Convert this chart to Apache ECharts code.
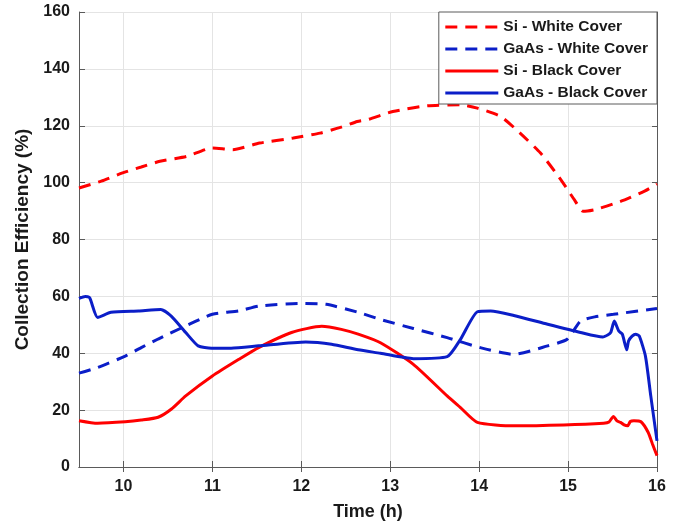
<!DOCTYPE html>
<html>
<head>
<meta charset="utf-8">
<script src="https://cdn.jsdelivr.net/npm/echarts@6/dist/echarts.min.js"></script>
<style>
  html, body { margin: 0; padding: 0; background: #fff; }
  #chart { width: 690px; height: 526px; }
</style>
</head>
<body>
<div id="chart"></div>
<script>
// Time of day (h) and collection efficiency (%) for each receiver / cover combination
const siWhiteT = [9.5, 9.75, 9.99, 10.2, 10.41, 10.71, 11.0, 11.23, 11.53, 11.91, 12.21, 12.45, 12.63, 12.74, 13.03, 13.41, 13.79, 13.98, 14.24, 14.46, 14.69, 14.92, 15.07, 15.17, 15.3, 15.59, 15.86, 16.0];
const siWhiteV = [98.1, 100.5, 103.4, 105.5, 107.5, 109.2, 112.2, 111.6, 113.9, 115.7, 117.4, 119.5, 121.5, 122.1, 125.0, 127.0, 127.4, 126.2, 123.3, 117.4, 110.4, 101.0, 94.0, 89.9, 90.5, 93.4, 97.0, 99.5];

const gaasWhiteT = [9.5, 9.71, 10.02, 10.2, 10.39, 10.7, 11.0, 11.3, 11.52, 11.98, 12.28, 12.64, 12.89, 13.26, 13.64, 14.01, 14.39, 14.77, 14.99, 15.14, 15.3, 15.51, 16.0];
const gaasWhiteV = [33.0, 35.0, 39.0, 42.0, 45.0, 49.6, 53.7, 54.9, 56.6, 57.5, 57.2, 54.4, 51.9, 48.7, 45.5, 42.0, 39.6, 42.6, 44.9, 51.3, 52.8, 53.7, 55.7];

const siBlackT = [9.5, 9.71, 10.02, 10.2, 10.39, 10.54, 10.7, 11.0, 11.3, 11.52, 11.89, 12.23, 12.45, 12.64, 12.89, 13.26, 13.64, 13.79, 13.98, 14.39, 14.95, 15.4, 15.46, 15.51, 15.55, 15.59, 15.63, 15.67, 15.7, 15.74, 15.82, 15.9, 15.95, 16.0];
const siBlackV = [16.3, 15.4, 15.9, 16.5, 17.5, 20.4, 25.0, 32.0, 37.9, 42.0, 47.3, 49.5, 48.4, 46.7, 43.7, 36.1, 25.0, 20.9, 15.7, 14.5, 14.8, 15.4, 15.8, 17.8, 16.2, 15.7, 14.8, 14.5, 16.0, 16.3, 15.9, 12.2, 8.0, 4.0];

const gaasBlackT = [9.5, 9.57, 9.62, 9.71, 9.86, 10.17, 10.42, 10.54, 10.7, 10.84, 10.99, 11.21, 11.52, 12.05, 12.34, 12.64, 12.89, 13.26, 13.64, 13.79, 13.98, 14.13, 14.39, 14.77, 15.14, 15.39, 15.45, 15.48, 15.52, 15.57, 15.61, 15.66, 15.68, 15.72, 15.76, 15.8, 15.87, 15.93, 16.0];
const gaasBlackV = [59.3, 60.0, 59.5, 52.6, 54.4, 54.9, 55.4, 53.0, 47.3, 42.6, 41.8, 41.8, 42.6, 44.0, 43.2, 41.2, 40.0, 38.1, 38.8, 44.9, 54.6, 54.9, 53.3, 50.2, 47.3, 45.7, 46.5, 47.3, 51.3, 47.8, 46.7, 41.2, 44.3, 46.0, 46.7, 46.1, 39.0, 25.0, 9.2];

const seriesNames = ['Si - White Cover', 'GaAs - White Cover', 'Si - Black Cover', 'GaAs - Black Cover'];
const xTicks = [10, 11, 12, 13, 14, 15, 16];

const RED = '#ff0000';
const BLUE = '#0b1ec8';
const FONT = '"Liberation Sans", Arial, sans-serif';

const pairs = (t, v) => t.map((x, i) => [x, v[i]]);

const frameLine = { show: true, lineStyle: { color: '#5a5a5a', width: 1 } };
const innerTick = { show: true, inside: true, length: 6, lineStyle: { color: '#5a5a5a', width: 1 } };

function makeLine(name, t, v, color, dashed) {
  return {
    name: name,
    type: 'line',
    data: pairs(t, v),
    xAxisIndex: 0,
    yAxisIndex: 0,
    symbol: 'none',
    smooth: 0.2,
    lineStyle: { color: color, width: 3, type: dashed ? [12, 8] : 'solid' },
    itemStyle: { color: color },
    z: 3
  };
}

const chart = echarts.init(document.getElementById('chart'), null, { renderer: 'canvas' });

chart.setOption({
  animation: false,
  backgroundColor: '#ffffff',
  textStyle: { fontFamily: FONT },
  grid: { left: 79, right: 33, top: 12, bottom: 58, containLabel: false },
  legend: {
    data: seriesNames,
    orient: 'vertical',
    right: 33,
    top: 12,
    itemWidth: 53,
    itemHeight: 14,
    itemGap: 6,
    padding: [7, 9, 3, 5],
    backgroundColor: '#ffffff',
    borderColor: '#5a5a5a',
    borderWidth: 1,
    // legend keys show only the line stroke
    itemStyle: { opacity: 0 },
    lineStyle: { width: 3 },
    textStyle: { fontFamily: FONT, fontWeight: 'bold', fontSize: 15.5, color: '#1a1a1a' }
  },
  xAxis: [
    {
      type: 'value',
      min: 9.5,
      max: 16,
      name: 'Time (h)',
      nameLocation: 'middle',
      nameGap: 36,
      nameTextStyle: { fontFamily: FONT, fontWeight: 'bold', fontSize: 18, color: '#1a1a1a' },
      axisLine: frameLine,
      axisTick: Object.assign({}, innerTick, { customValues: xTicks }),
      axisLabel: {
        customValues: xTicks,
        margin: 12,
        fontFamily: FONT, fontWeight: 'bold', fontSize: 16, color: '#1a1a1a',
        formatter: v => (Number.isInteger(v) ? String(v) : '')
      },
      splitLine: { show: true, lineStyle: { color: '#e4e4e4', width: 1 } }
    },
    {
      type: 'value',
      position: 'top',
      min: 9.5,
      max: 16,
      axisLine: frameLine,
      axisTick: Object.assign({}, innerTick, { length: 5, customValues: xTicks }),
      axisLabel: { show: false, customValues: xTicks },
      splitLine: { show: false }
    }
  ],
  yAxis: [
    {
      type: 'value',
      min: 0,
      max: 160,
      interval: 20,
      name: 'Collection Efficiency (%)',
      nameLocation: 'middle',
      nameGap: 47,
      nameTextStyle: { fontFamily: FONT, fontWeight: 'bold', fontSize: 19, color: '#1a1a1a' },
      axisLine: frameLine,
      axisTick: innerTick,
      axisLabel: { margin: 9, fontFamily: FONT, fontWeight: 'bold', fontSize: 16, color: '#1a1a1a' },
      splitLine: { show: true, lineStyle: { color: '#e4e4e4', width: 1 } }
    },
    {
      type: 'value',
      position: 'right',
      min: 0,
      max: 160,
      interval: 20,
      axisLine: frameLine,
      axisTick: Object.assign({}, innerTick, { length: 5 }),
      axisLabel: { show: false },
      splitLine: { show: false }
    }
  ],
  series: [
    makeLine(seriesNames[0], siWhiteT, siWhiteV, RED, true),
    makeLine(seriesNames[1], gaasWhiteT, gaasWhiteV, BLUE, true),
    makeLine(seriesNames[2], siBlackT, siBlackV, RED, false),
    makeLine(seriesNames[3], gaasBlackT, gaasBlackV, BLUE, false)
  ]
});
</script>
</body>
</html>
